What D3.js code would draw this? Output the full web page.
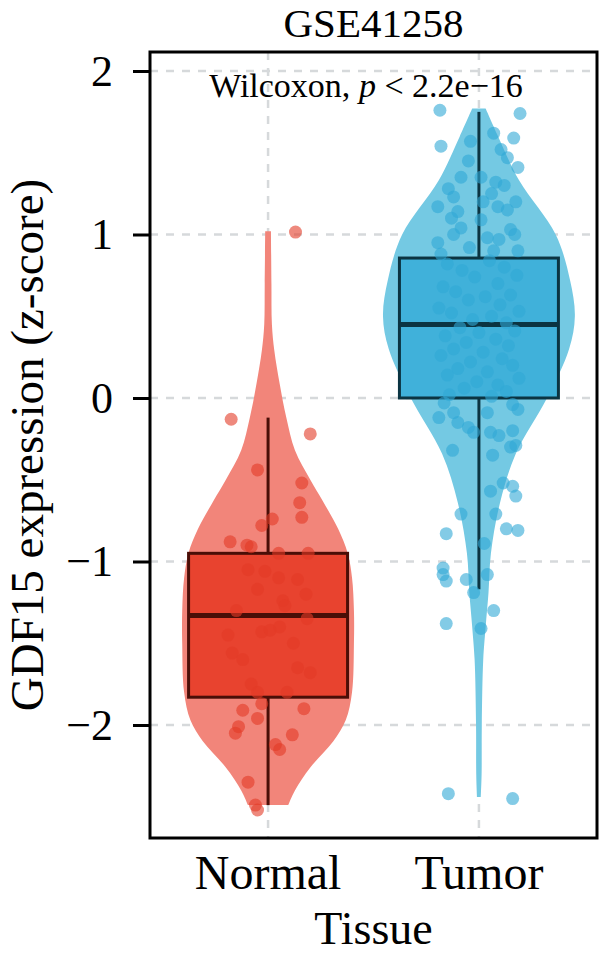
<!DOCTYPE html>
<html><head><meta charset="utf-8">
<script src="https://cdn.jsdelivr.net/npm/d3@7"></script>
<style>html,body{margin:0;padding:0;background:#fff;}svg{display:block;}</style>
</head><body>
<svg id="chart" width="600" height="956"></svg>
<script>
// ---------- DATA ----------
const title = "GSE41258";
const categories = ["Normal", "Tumor"];
const yTicks = [-2, -1, 0, 1, 2];
const yTickLabels = ["\u22122", "\u22121", "0", "1", "2"];
const xTitle = "Tissue";
const yTitle = "GDF15 expression (z-score)";

// box stats: [lowerWhisker, q1, median, q3, upperWhisker]
const boxNormal = [-2.49, -1.83, -1.33, -0.95, -0.12];
const boxTumor  = [-1.17, 0.0, 0.45, 0.856, 1.75];

// violin density profiles: [value, relative density]
const violinNormal = [
  [1.02,0.03],[0.7,0.035],[0.45,0.04],[0.29,0.065],[0.09,0.12],[-0.12,0.19],
  [-0.32,0.28],[-0.5,0.44],[-0.63,0.57],[-0.8,0.73],[-0.95,0.83],[-1.1,0.875],
  [-1.3,0.895],[-1.5,0.895],[-1.8,0.875],[-1.97,0.81],[-2.1,0.68],[-2.26,0.44],
  [-2.4,0.28],[-2.49,0.21]
];
const violinTumor = [
  [1.77,0.07],[1.6,0.2],[1.33,0.42],[1.0,0.8],[0.72,0.95],[0.5,1.0],
  [0.3,0.94],[0.0,0.71],[-0.34,0.385],[-0.64,0.22],[-0.95,0.125],[-1.19,0.1],
  [-1.4,0.07],[-1.6,0.045],[-2.0,0.03],[-2.3,0.028],[-2.44,0.02]
];

// jittered points: [jitter offset (category units), value]
const pointsNormal = [
  [0.13,1.015],[-0.175,-0.13],[0.2,-0.22],[-0.05,-0.44],[0.16,-0.52],[0.15,-0.64],
  [0.02,-0.74],[-0.03,-0.78],[0.16,-0.73],[-0.10,-0.90],[-0.08,-0.91],[0.19,-0.95],
  [-0.095,-1.05],[-0.015,-1.06],[0.05,-1.10],[0.14,-1.11],[-0.05,-1.17],[0.07,-1.24],
  [0.08,-1.27],[0.185,-1.35],[-0.03,-1.43],[0.01,-1.42],[0.055,-1.40],[-0.17,-1.56],
  [-0.12,-1.60],[0.14,-1.65],[0.2,-1.68],[-0.05,-1.80],[0.09,-1.80],[-0.03,-1.87],
  [-0.12,-1.91],[-0.05,-1.96],[-0.14,-2.01],[-0.155,-2.05],[0.115,-2.06],[0.035,-2.12],
  [0.055,-2.15],[-0.095,-2.35],[-0.06,-2.49],[-0.05,-2.52],
  [-0.18,-0.88],[0.18,-1.2],[-0.15,-1.3],[0.12,-1.5],[-0.08,-1.75],[0.17,-1.9],
  [-0.19,-1.45],[0.05,-0.95]
];
const pointsTumor = [
  [-0.185,1.76],[0.195,1.74],[-0.04,1.57],[-0.18,1.54],[0.07,1.62],[0.165,1.59],
  [0.105,1.52],[0.135,1.47],[0.185,1.41],[-0.085,1.35],[0.01,1.35],[0.08,1.32],
  [-0.145,1.28],[-0.12,1.23],[0.06,1.25],[0.175,1.20],[-0.195,1.17],[-0.10,1.14],
  [0.09,1.17],[0.135,1.15],[0.01,1.09],[-0.085,1.04],[-0.12,1.0],[-0.195,0.95],
  [0.04,0.98],[0.095,0.97],[0.15,1.03],[-0.045,0.92],[0.185,0.9],
  [-0.05,1.45],[0.12,1.3],[-0.13,1.1],[0.02,1.2],[0.17,1.0],[-0.18,0.88],[0.07,0.9],
  [-0.15,0.82],[0.05,0.84],[0.12,0.8],[-0.08,0.78],[0.18,0.75],[-0.02,0.74],[0.09,0.7],
  [-0.17,0.68],[-0.11,0.65],[0.15,0.63],[0.03,0.62],[-0.05,0.6],[0.1,0.57],[-0.19,0.55],
  [0.19,0.53],[-0.13,0.52],[0.06,0.5],[-0.03,0.48],[0.13,0.46],[-0.09,0.43],[0.17,0.41],
  [0.0,0.4],[-0.16,0.38],[0.08,0.36],[-0.06,0.34],[0.14,0.32],[-0.12,0.3],[0.02,0.28],
  [-0.18,0.26],[0.11,0.24],[-0.04,0.22],[0.16,0.2],[-0.1,0.18],[0.04,0.16],[-0.15,0.14],
  [0.19,0.12],[-0.01,0.1],[0.09,0.08],[-0.07,0.06],[0.13,0.04],[-0.14,0.02],[0.06,0.01],
  [-0.165,-0.03],[-0.12,-0.09],[-0.19,-0.12],[-0.10,-0.15],[-0.05,-0.18],[0.04,-0.09],
  [0.16,-0.04],[0.185,-0.07],[-0.025,-0.21],[0.055,-0.21],[0.095,-0.23],[0.16,-0.2],
  [-0.125,-0.32],[0.065,-0.35],[0.15,-0.30],[0.175,-0.29],[0.115,-0.52],[0.16,-0.54],
  [0.175,-0.6],[0.055,-0.57],[-0.085,-0.71],[0.08,-0.71],[-0.155,-0.83],[0.13,-0.8],
  [0.185,-0.81],[0.025,-0.89],[-0.17,-1.04],[-0.17,-1.08],[-0.155,-1.12],[-0.06,-1.11],
  [0.04,-1.08],[-0.025,-1.19],[0.07,-1.30],[-0.155,-1.38],[0.01,-1.41],[-0.145,-2.42],
  [0.16,-2.45]
];
const statLabel = "Wilcoxon, ";
const statP = "p";
const statRest = " < 2.2e\u221216";

// ---------- LAYOUT ----------
const svg = d3.select("#chart");
const font = "'Liberation Serif', 'Times New Roman', serif";
const panel = {left: 150, right: 597, top: 52, bottom: 838};

const x = d3.scaleLinear().domain([0.44, 2.56]).range([panel.left, panel.right]);
const y = d3.scaleLinear().domain([-2.6912, 2.1162]).range([panel.bottom, panel.top]);
const unit = x(2) - x(1);
const wScale = d3.scaleLinear().domain([0, 1]).range([0, 0.455 * unit]);
const boxHalf = 0.377 * unit;

const groups = [
  {name: categories[0], pos: 1, box: boxNormal, violin: violinNormal, pts: pointsNormal,
   vfill: "#F2857A", bfill: "#E8432F", pfill: "#E33B27", stroke: "#4a0e07"},
  {name: categories[1], pos: 2, box: boxTumor, violin: violinTumor, pts: pointsTumor,
   vfill: "#74C9E3", bfill: "#40B1DA", pfill: "#30A8D6", stroke: "#0b3442"}
];

// gridlines
const grid = svg.append("g");
grid.selectAll("line.gy").data(yTicks).join("line")
  .attr("x1", panel.left).attr("x2", panel.right)
  .attr("y1", d => y(d)).attr("y2", d => y(d))
  .attr("stroke", "#d6d9db").attr("stroke-width", 2.5).attr("stroke-dasharray", "8,8");
grid.selectAll("line.gx").data(groups).join("line")
  .attr("x1", d => x(d.pos)).attr("x2", d => x(d.pos))
  .attr("y1", panel.top).attr("y2", panel.bottom)
  .attr("stroke", "#d6d9db").attr("stroke-width", 2.5).attr("stroke-dasharray", "8,8");

// violins
groups.forEach(g => {
  const area = d3.area()
    .y(d => y(d[0]))
    .x0(d => x(g.pos) - wScale(d[1]))
    .x1(d => x(g.pos) + wScale(d[1]))
    .curve(d3.curveCatmullRom.alpha(0.5));
  svg.append("path").datum(g.violin).attr("d", area).attr("fill", g.vfill).attr("stroke", "none");
});

// boxes
groups.forEach(g => {
  const cx = x(g.pos);
  const [lw, q1, med, q3, uw] = g.box;
  const gg = svg.append("g");
  gg.append("line").attr("x1", cx).attr("x2", cx).attr("y1", y(q3)).attr("y2", y(uw))
    .attr("stroke", g.stroke).attr("stroke-width", 3);
  gg.append("line").attr("x1", cx).attr("x2", cx).attr("y1", y(q1)).attr("y2", y(lw))
    .attr("stroke", g.stroke).attr("stroke-width", 3);
  gg.append("rect").attr("x", cx - boxHalf).attr("width", 2 * boxHalf)
    .attr("y", y(q3)).attr("height", y(q1) - y(q3))
    .attr("fill", g.bfill).attr("stroke", g.stroke).attr("stroke-width", 3);
  gg.append("line").attr("x1", cx - boxHalf).attr("x2", cx + boxHalf)
    .attr("y1", y(med)).attr("y2", y(med))
    .attr("stroke", g.stroke).attr("stroke-width", 5);
});

// points
groups.forEach(g => {
  svg.append("g").selectAll("circle").data(g.pts).join("circle")
    .attr("cx", d => x(g.pos + d[0])).attr("cy", d => y(d[1])).attr("r", 6.5)
    .attr("fill", g.pfill).attr("fill-opacity", 0.6);
});

// panel border
svg.append("rect").attr("x", panel.left).attr("y", panel.top)
  .attr("width", panel.right - panel.left).attr("height", panel.bottom - panel.top)
  .attr("fill", "none").attr("stroke", "#000").attr("stroke-width", 3);

// y axis
const yAxis = svg.append("g").attr("transform", `translate(${panel.left},0)`)
  .call(d3.axisLeft(y).tickValues(yTicks).tickSize(17).tickPadding(20)
    .tickFormat((d, i) => yTickLabels[i]));
yAxis.select(".domain").remove();
yAxis.selectAll(".tick line").attr("stroke", "#000").attr("stroke-width", 3);
yAxis.selectAll(".tick text").attr("font-family", font).attr("font-size", 44).attr("fill", "#000");

// x tick labels
svg.append("g").selectAll("text").data(groups).join("text")
  .attr("x", d => x(d.pos)).attr("y", 889)
  .attr("text-anchor", "middle").attr("font-family", font).attr("font-size", 48)
  .text(d => d.name);

// axis titles
svg.append("text").attr("x", (panel.left + panel.right) / 2).attr("y", 944)
  .attr("text-anchor", "middle").attr("font-family", font).attr("font-size", 46).text(xTitle);
svg.append("text").attr("transform", `translate(43,${(panel.top + panel.bottom) / 2}) rotate(-90)`)
  .attr("text-anchor", "middle").attr("font-family", font).attr("font-size", 47).text(yTitle);

// title
svg.append("text").attr("x", (panel.left + panel.right) / 2).attr("y", 37)
  .attr("text-anchor", "middle").attr("font-family", font).attr("font-size", 41).text(title);

// stat label
const st = svg.append("text").attr("x", 366).attr("y", 97)
  .attr("text-anchor", "middle").attr("font-family", font).attr("font-size", 34);
st.append("tspan").text(statLabel);
st.append("tspan").attr("font-style", "italic").text(statP);
st.append("tspan").text(statRest);
</script>
</body></html>
